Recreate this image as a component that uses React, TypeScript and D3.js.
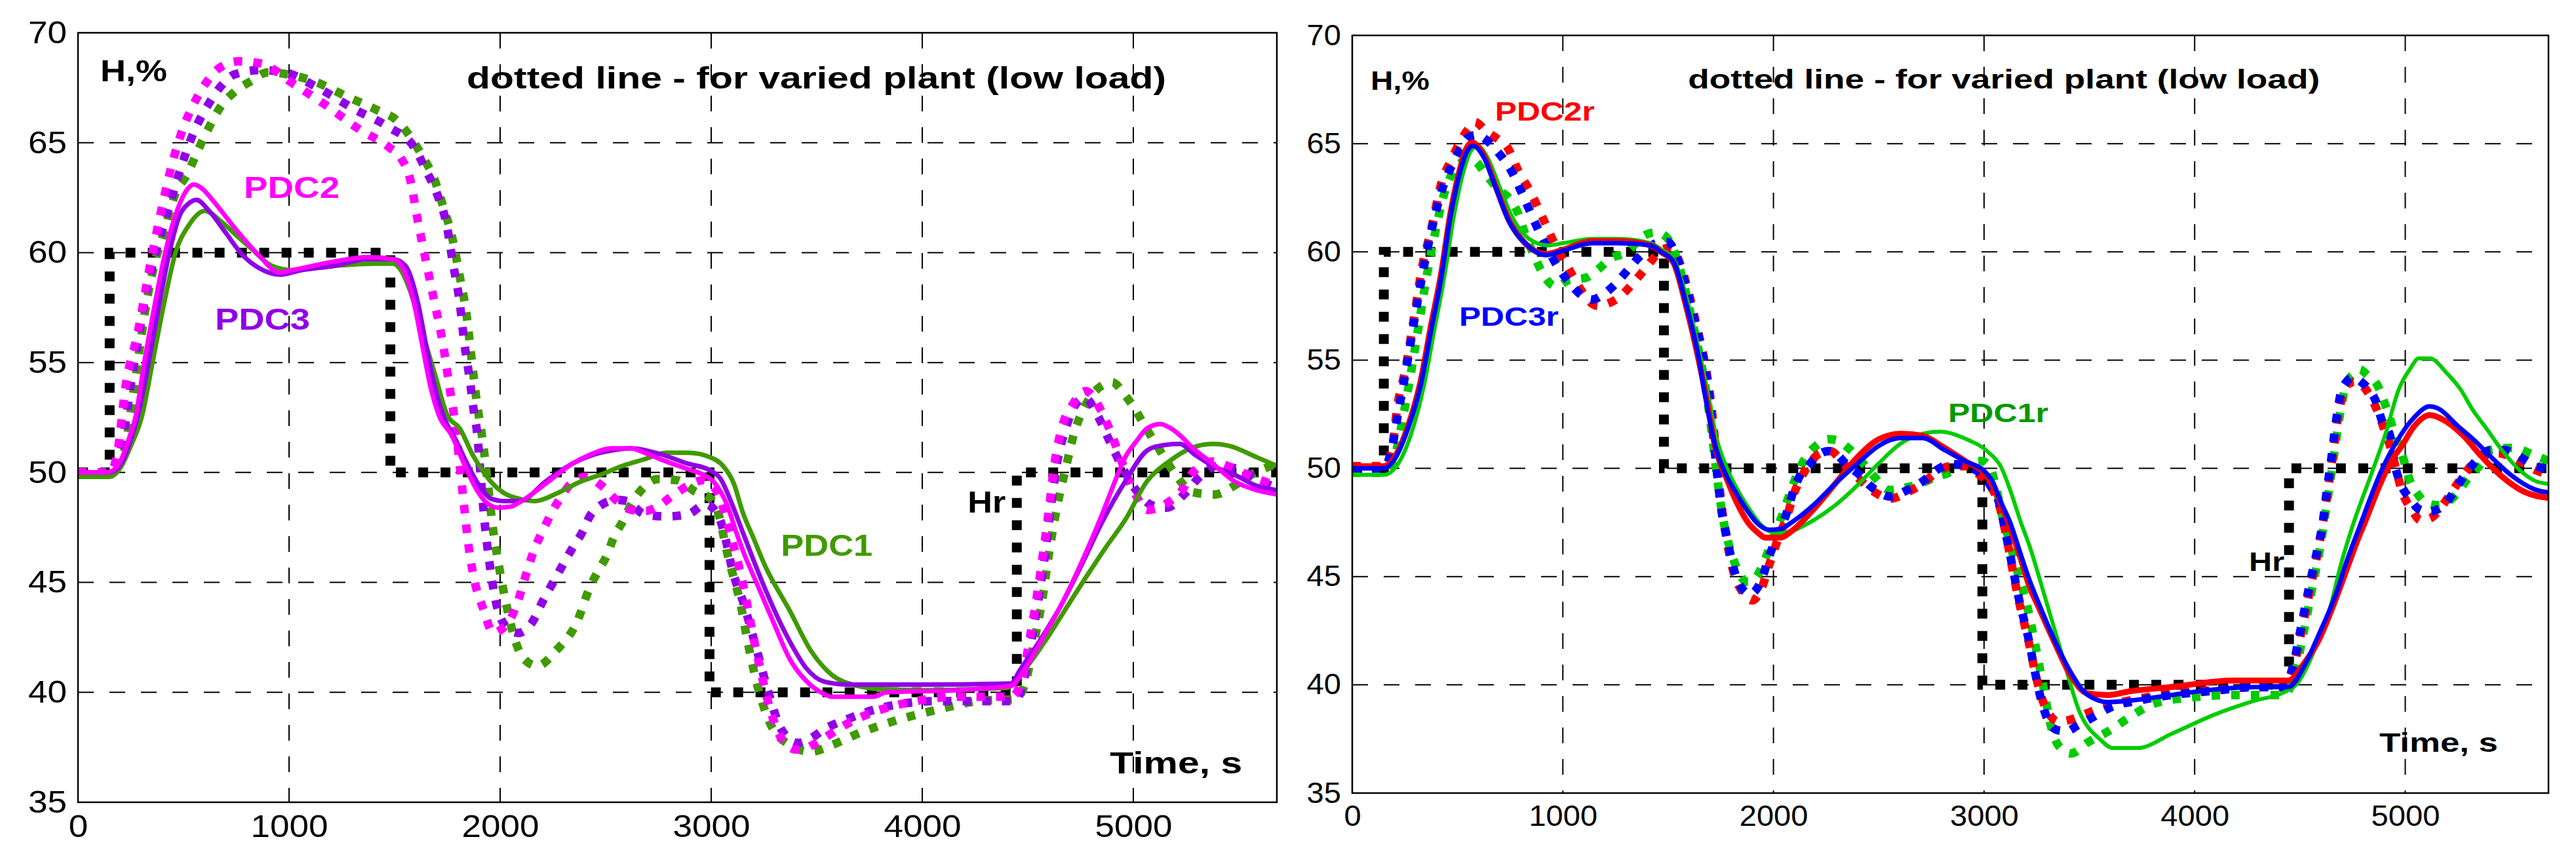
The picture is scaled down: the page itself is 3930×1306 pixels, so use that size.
import * as d3 from "d3";
import { useEffect, useRef } from "react";

type Pt = [number, number];

const xTicks = [0, 1000, 2000, 3000, 4000, 5000];
const yTicks = [35, 40, 45, 50, 55, 60, 65, 70];
const tMax = 5680;

// reference level Hr, given as step changes [time, new level]
const hrSteps: Pt[] = [[0, 50], [150, 60], [1480, 50], [2992, 40], [4448, 50], [5680, 50]];

// ---- left panel: PDC1..PDC3 (solid = nominal plant, dotted = varied plant)
const pdc1: Pt[] = [[0,49.8],[150,49.8],[200,50.2],[250,51.2],[304,52.6],[353,55.0],[410,57.8],[462,60.0],[522,61.2],[601,61.9],[680,61.4],[760,60.7],[819,60.2],[918,59.4],[1017,59.2],[1215,59.4],[1413,59.5],[1493,59.5],[1530,59.2],[1572,58.3],[1631,56.4],[1690,54.5],[1750,52.6],[1809,52.0],[1870,50.8],[1930,49.9],[1959,49.55],[2021,49.05],[2093,48.8],[2166,48.7],[2269,49.05],[2373,49.55],[2476,49.9],[2580,50.3],[2683,50.6],[2787,50.9],[2890,50.9],[2994,50.7],[3056,50.3],[3107,49.5],[3149,48.2],[3201,47.0],[3253,45.8],[3373,43.7],[3472,41.9],[3571,40.8],[3690,40.3],[3800,40.15],[4000,40.1],[4400,40.2],[4482,41.0],[4580,42.3],[4680,43.8],[4780,45.3],[4870,46.6],[4962,47.85],[5065,49.6],[5169,50.5],[5272,51.1],[5376,51.3],[5458,51.2],[5583,50.7],[5680,50.3]];
const pdc1Varied: Pt[] = [[0,50],[150,50],[200,50.4],[230,51.5],[260,53.5],[290,55.5],[324,57.7],[363,59.5],[403,60.8],[462,62.7],[520,63.6],[561,64.5],[621,65.7],[680,66.7],[740,67.3],[819,67.8],[898,68.2],[997,68.1],[1116,67.8],[1274,67.1],[1413,66.5],[1512,66.0],[1572,65.3],[1631,64.4],[1690,63.3],[1730,62.1],[1770,60.8],[1809,58.9],[1839,57.3],[1868,54.9],[1888,53.3],[1918,51.4],[1938,49.8],[1968,47.3],[1997,45.6],[2027,44.1],[2067,42.5],[2106,41.6],[2176,41.2],[2265,41.9],[2364,43.2],[2424,44.75],[2466,45.55],[2507,46.25],[2538,47.05],[2580,47.75],[2621,48.55],[2673,49.25],[2745,49.7],[2838,49.65],[2921,49.15],[3004,48.75],[3045,47.75],[3066,46.75],[3097,45.55],[3135,44.2],[3175,42.2],[3214,40.5],[3274,38.7],[3373,37.6],[3472,37.3],[3571,37.6],[3690,38.1],[3868,38.7],[4066,39.2],[4264,39.6],[4442,39.7],[4490,40.5],[4530,42.3],[4570,44.3],[4600,46.3],[4640,48.5],[4680,50.2],[4720,51.8],[4770,53.0],[4830,53.8],[4900,54.1],[4962,53.5],[5013,52.8],[5055,52.1],[5107,51.3],[5158,50.5],[5200,49.9],[5282,49.1],[5386,49.0],[5479,49.4],[5541,49.8],[5680,50.4]];
const pdc2: Pt[] = [[0,50],[140,50],[200,50.5],[240,51.5],[274,52.6],[314,55.0],[363,57.6],[413,60.0],[462,61.7],[512,62.8],[548,63.1],[590,62.9],[637,62.4],[736,61.2],[855,59.9],[954,59.1],[1013,59.2],[1215,59.6],[1374,59.8],[1493,59.7],[1532,59.4],[1592,57.7],[1631,55.8],[1670,53.9],[1710,52.6],[1770,51.7],[1829,50.4],[1878,49.4],[1928,48.7],[1990,48.4],[2050,48.45],[2093,48.65],[2217,49.5],[2342,50.4],[2424,50.8],[2528,51.1],[2621,51.1],[2683,50.9],[2787,50.5],[2890,50.15],[2973,49.85],[3014,49.55],[3076,48.5],[3118,47.3],[3160,46.2],[3214,45.0],[3294,43.2],[3373,41.5],[3452,40.5],[3520,40.0],[3571,39.8],[3769,39.8],[3830,40.0],[4165,40.1],[4422,40.3],[4482,41.0],[4561,42.3],[4660,44.0],[4759,46.0],[4848,48.0],[4930,50.0],[4962,50.7],[5013,51.4],[5065,52.0],[5127,52.2],[5179,52.0],[5231,51.6],[5272,51.2],[5376,50.4],[5479,49.6],[5583,49.2],[5680,49.0]];
const pdc2Varied: Pt[] = [[0,50],[150,50],[185,50.8],[225,53.9],[284,56.4],[343,59.5],[403,62.3],[442,63.9],[492,65.5],[561,67.0],[620,67.9],[670,68.4],[760,68.7],[868,68.6],[1017,67.7],[1175,66.7],[1334,65.6],[1473,64.8],[1530,64.3],[1572,63.4],[1611,61.4],[1651,59.5],[1690,57.7],[1730,55.8],[1760,53.9],[1790,52.0],[1810,50.2],[1829,48.5],[1850,46.7],[1878,45.1],[1920,43.8],[1968,42.7],[2010,42.9],[2047,43.3],[2086,44.2],[2124,45.4],[2166,46.6],[2205,47.4],[2245,48.2],[2290,48.9],[2331,49.45],[2404,49.8],[2487,49.35],[2549,48.75],[2621,48.3],[2690,48.25],[2735,48.4],[2818,48.95],[2900,49.45],[2960,49.65],[2994,49.5],[3035,49.0],[3087,47.35],[3128,45.85],[3160,44.5],[3200,42.5],[3234,41.0],[3274,39.4],[3333,37.9],[3400,37.4],[3432,37.4],[3480,37.6],[3532,37.9],[3650,38.6],[3769,39.1],[3967,39.6],[4165,39.8],[4422,39.8],[4470,40.5],[4510,42.5],[4545,44.5],[4575,46.5],[4600,48.3],[4625,50.3],[4660,52.0],[4713,53.1],[4775,53.7],[4848,52.8],[4910,51.4],[4941,50.6],[4980,49.6],[5013,48.95],[5065,48.3],[5120,48.4],[5158,48.6],[5231,49.2],[5282,50.0],[5376,50.5],[5469,50.2],[5562,49.8],[5680,49.4]];
const pdc3: Pt[] = [[0,50],[150,50],[210,50.5],[250,51.5],[284,52.6],[334,55.0],[384,57.6],[433,60.0],[482,61.7],[520,62.2],[561,62.4],[621,61.9],[700,60.9],[779,59.9],[858,59.3],[958,59.0],[1057,59.2],[1215,59.4],[1374,59.7],[1493,59.7],[1552,59.4],[1611,57.7],[1651,55.7],[1690,53.9],[1730,52.6],[1789,51.5],[1849,50.3],[1908,49.3],[1959,48.8],[2020,48.7],[2093,48.7],[2217,49.6],[2342,50.4],[2440,50.8],[2528,51.0],[2621,51.1],[2735,50.9],[2890,50.4],[2994,50.1],[3045,49.7],[3097,48.6],[3149,47.3],[3201,46.0],[3260,44.6],[3373,42.3],[3450,41.1],[3532,40.5],[3650,40.35],[4000,40.35],[4420,40.4],[4462,41.0],[4560,42.4],[4660,44.0],[4760,45.9],[4858,47.85],[4962,49.6],[5065,51.0],[5117,51.2],[5220,51.3],[5293,50.8],[5376,50.3],[5479,49.9],[5583,49.4],[5680,49.2]];
const pdc3Varied: Pt[] = [[0,50],[150,50],[190,50.6],[220,52.0],[250,54.0],[284,56.0],[330,58.5],[363,59.8],[423,61.8],[482,63.7],[541,65.3],[621,66.8],[680,67.6],[740,68.1],[858,68.3],[977,68.2],[1136,67.5],[1314,66.5],[1473,65.7],[1592,64.8],[1651,63.7],[1700,62.7],[1750,61.1],[1775,59.6],[1809,57.7],[1829,56.0],[1858,54.1],[1878,52.6],[1890,51.9],[1908,49.8],[1928,47.6],[1948,46.0],[1978,44.2],[2027,43.0],[2086,42.7],[2146,43.1],[2205,44.2],[2248,44.95],[2300,45.85],[2342,46.55],[2393,47.35],[2424,48.0],[2476,48.5],[2550,48.75],[2600,48.7],[2683,48.1],[2787,48.0],[2890,48.1],[2973,48.55],[3035,48.0],[3076,46.65],[3097,45.7],[3155,44.0],[3214,42.0],[3274,39.9],[3333,38.3],[3412,37.7],[3470,37.9],[3532,38.3],[3650,38.8],[3769,39.2],[4066,39.6],[4442,39.6],[4480,40.5],[4520,42.5],[4555,44.5],[4585,46.5],[4610,48.5],[4640,50.5],[4680,52.0],[4720,53.0],[4770,53.4],[4830,52.6],[4889,51.4],[4950,50.2],[5013,49.2],[5090,48.5],[5158,48.4],[5240,49.0],[5314,49.8],[5396,50.3],[5510,50.1],[5604,49.6],[5680,49.3]];

// ---- right panel: robust PDC1r..PDC3r
const pdc1r: Pt[] = [[0,49.7],[150,49.7],[210,50.1],[280,51.6],[340,53.8],[390,56.4],[440,59.0],[480,61.5],[520,63.4],[560,64.6],[595,64.9],[640,64.4],[700,63.0],[760,61.6],[840,60.6],[930,60.3],[1000,60.4],[1139,60.6],[1267,60.6],[1418,60.4],[1470,60.1],[1530,59.6],[1590,57.8],[1650,55.3],[1690,53.4],[1730,51.4],[1780,50.0],[1830,49.0],[1880,48.2],[1940,47.4],[2013,47.0],[2086,47.1],[2190,47.6],[2294,48.3],[2397,49.2],[2501,50.24],[2605,51.15],[2709,51.6],[2791,51.7],[2916,51.35],[3020,50.75],[3082,50.04],[3124,49.0],[3175,47.5],[3214,46.47],[3294,43.9],[3373,41.3],[3453,38.76],[3552,37.47],[3611,37.08],[3730,37.08],[3889,37.73],[4088,38.6],[4286,39.27],[4425,39.66],[4485,40.04],[4584,41.97],[4650,43.8],[4690,45.4],[4752,47.4],[4835,49.63],[4908,51.65],[4970,53.67],[5022,54.58],[5064,55.08],[5116,55.08],[5199,54.38],[5261,53.67],[5323,52.66],[5385,51.85],[5458,50.85],[5541,49.94],[5614,49.43],[5680,49.28]];
const pdc1rVaried: Pt[] = [[0,49.8],[150,49.8],[200,50.5],[240,52.3],[275,54.2],[314,56.5],[354,58.9],[394,60.9],[434,62.6],[473,63.6],[513,64.1],[553,64.3],[583,64.2],[633,63.6],[692,62.9],[752,62.4],[791,61.7],[811,61.1],[870,59.7],[910,58.9],[970,58.4],[1029,58.7],[1109,58.8],[1168,59.2],[1228,59.7],[1307,60.0],[1376,60.7],[1440,60.9],[1490,60.7],[1530,60.0],[1570,58.7],[1610,57.0],[1650,55.2],[1680,53.6],[1705,51.8],[1730,49.8],[1755,48.0],[1780,46.8],[1810,45.8],[1845,45.0],[1880,44.75],[1920,45.0],[1960,45.8],[2000,46.8],[2040,47.8],[2080,48.9],[2120,49.9],[2160,50.6],[2210,51.1],[2260,51.35],[2300,51.3],[2360,50.9],[2420,50.3],[2480,49.6],[2553,49.0],[2620,49.1],[2700,49.3],[2770,49.6],[2833,49.8],[2905,50.2],[2988,50.34],[3030,50.0],[3060,49.0],[3082,48.0],[3124,46.5],[3165,45.0],[3196,44.0],[3240,42.0],[3280,40.0],[3320,38.0],[3353,37.2],[3413,36.83],[3492,37.34],[3591,37.86],[3691,38.5],[3810,39.14],[3969,39.4],[4187,39.53],[4425,39.53],[4475,40.5],[4515,42.3],[4555,44.3],[4595,46.3],[4630,48.5],[4660,50.5],[4690,52.5],[4720,53.9],[4760,54.4],[4783,54.58],[4820,54.3],[4866,53.87],[4910,52.8],[4950,51.6],[4991,50.44],[5022,49.43],[5060,48.8],[5095,48.42],[5157,48.3],[5210,48.5],[5250,48.9],[5302,49.6],[5364,50.24],[5406,50.85],[5510,50.95],[5604,50.64],[5680,50.34]];
const pdc2r: Pt[] = [[0,50.1],[150,50.1],[200,50.5],[263,51.9],[324,54.0],[374,56.6],[424,59.1],[463,61.6],[503,63.5],[543,64.8],[570,65.05],[623,64.5],[682,63.0],[742,61.5],[821,60.4],[921,59.9],[1000,60.1],[1139,60.5],[1267,60.5],[1418,60.3],[1466,60.0],[1525,59.5],[1585,57.5],[1645,55.0],[1684,53.1],[1723,51.0],[1775,49.6],[1827,48.4],[1879,47.5],[1930,47.0],[1961,46.8],[2034,46.8],[2086,47.1],[2190,48.1],[2294,49.3],[2397,50.5],[2501,51.35],[2605,51.6],[2709,51.5],[2812,50.95],[2916,50.3],[2999,49.8],[3051,49.0],[3103,47.8],[3175,45.8],[3217,44.5],[3254,43.7],[3333,42.0],[3413,40.4],[3492,39.6],[3591,39.53],[3691,39.7],[3889,39.9],[4187,40.2],[4445,40.2],[4520,41.0],[4584,41.97],[4683,44.3],[4732,45.6],[4782,46.9],[4804,47.4],[4882,49.3],[4939,50.44],[4981,51.0],[5043,51.95],[5116,52.46],[5178,52.26],[5282,51.45],[5354,50.64],[5458,49.63],[5562,48.93],[5680,48.63]];
const pdc2rVaried: Pt[] = [[0,50.1],[150,50.1],[190,51.0],[215,52.9],[253,54.6],[294,57.0],[334,59.4],[374,61.0],[424,63.2],[473,64.3],[513,65.1],[553,65.7],[583,66.0],[633,65.6],[692,65.2],[732,64.9],[791,63.7],[850,62.7],[910,61.45],[970,60.2],[1029,59.2],[1089,58.2],[1140,57.6],[1168,57.5],[1210,57.6],[1267,57.9],[1346,58.7],[1406,59.4],[1470,60.1],[1515,60.2],[1555,59.5],[1595,58.2],[1635,56.6],[1674,54.9],[1700,53.3],[1720,51.5],[1740,49.5],[1760,47.8],[1780,46.6],[1800,45.6],[1825,44.8],[1860,44.2],[1899,43.9],[1941,44.4],[1982,45.6],[2024,46.8],[2065,47.8],[2096,48.8],[2128,49.5],[2170,50.2],[2221,50.7],[2270,50.8],[2310,50.5],[2345,50.1],[2397,49.6],[2480,48.9],[2553,48.6],[2636,48.9],[2709,49.3],[2771,49.8],[2843,50.1],[2916,50.1],[2978,49.7],[3030,49.2],[3072,48.3],[3103,47.0],[3134,45.4],[3165,43.9],[3214,41.9],[3244,40.5],[3274,39.4],[3313,38.6],[3353,38.3],[3413,38.4],[3492,38.7],[3611,39.1],[3730,39.35],[3889,39.6],[4088,39.75],[4286,39.9],[4425,39.9],[4470,40.8],[4510,42.6],[4550,44.5],[4590,46.4],[4630,48.8],[4655,50.5],[4675,52.0],[4700,53.3],[4730,53.9],[4760,54.0],[4800,53.8],[4835,53.3],[4870,52.6],[4900,51.8],[4935,50.8],[4960,49.8],[4990,48.8],[5030,48.1],[5074,47.6],[5120,47.7],[5170,48.2],[5220,48.9],[5270,49.6],[5320,50.2],[5380,50.6],[5440,50.7],[5510,50.5],[5600,50.0],[5680,49.7]];
const pdc3r: Pt[] = [[0,50.0],[150,50.0],[200,50.4],[263,51.8],[324,53.8],[374,56.35],[424,58.9],[463,61.45],[503,63.35],[543,64.6],[573,64.9],[623,64.4],[682,62.95],[742,61.45],[821,60.4],[921,59.85],[1000,60.05],[1139,60.4],[1267,60.4],[1418,60.3],[1466,60.0],[1525,59.55],[1585,57.6],[1645,55.1],[1671,53.6],[1723,51.05],[1775,49.7],[1827,48.8],[1879,48.0],[1930,47.4],[1982,47.16],[2034,47.2],[2086,47.5],[2190,48.3],[2294,49.3],[2397,50.2],[2501,51.05],[2605,51.4],[2709,51.4],[2812,50.85],[2916,50.3],[2999,49.9],[3040,49.4],[3082,48.4],[3124,47.5],[3175,46.0],[3217,44.8],[3254,43.9],[3333,42.1],[3413,40.56],[3492,39.53],[3591,39.2],[3691,39.27],[3889,39.53],[4088,39.78],[4286,39.9],[4445,39.9],[4524,40.94],[4584,42.2],[4683,44.54],[4711,45.4],[4783,47.3],[4887,49.9],[4960,51.25],[5043,52.36],[5116,52.86],[5157,52.76],[5250,51.95],[5333,51.25],[5406,50.54],[5510,49.63],[5614,49.03],[5680,48.88]];
const pdc3rVaried: Pt[] = [[0,50.0],[150,50.0],[190,51.0],[215,52.4],[253,54.4],[294,56.8],[334,59.0],[374,60.9],[424,62.8],[473,64.0],[513,64.75],[553,65.3],[590,65.4],[633,65.2],[692,64.6],[752,63.8],[811,62.6],[870,61.3],[910,60.5],[970,59.4],[1029,58.6],[1089,58.0],[1140,57.8],[1188,58.0],[1248,58.5],[1307,59.15],[1366,59.8],[1446,60.4],[1500,60.45],[1545,59.65],[1585,58.4],[1625,56.85],[1664,55.2],[1692,53.6],[1712,51.75],[1733,49.7],[1754,48.0],[1775,47.0],[1796,46.0],[1816,45.2],[1847,44.5],[1889,44.2],[1941,44.8],[1982,46.0],[2024,47.0],[2065,48.0],[2096,49.0],[2128,49.7],[2159,50.04],[2211,50.6],[2260,50.8],[2294,50.7],[2345,50.2],[2397,49.8],[2480,49.03],[2553,48.7],[2636,49.0],[2709,49.4],[2771,49.9],[2843,50.2],[2916,50.1],[2978,49.8],[3030,49.2],[3072,48.4],[3103,47.0],[3134,45.5],[3165,44.0],[3214,42.0],[3244,40.5],[3274,39.2],[3313,38.2],[3350,37.9],[3393,37.86],[3440,38.1],[3492,38.37],[3611,39.0],[3730,39.27],[3889,39.53],[4088,39.72],[4286,39.9],[4425,39.9],[4465,40.8],[4504,42.6],[4544,44.54],[4584,46.3],[4607,47.4],[4628,49.0],[4649,50.44],[4669,52.0],[4690,53.3],[4721,54.0],[4752,54.2],[4794,53.97],[4825,53.67],[4866,52.96],[4887,52.26],[4929,51.45],[4949,50.24],[4981,49.23],[5022,48.6],[5064,48.12],[5110,48.0],[5157,48.12],[5209,48.6],[5250,49.23],[5302,49.94],[5354,50.54],[5406,50.85],[5468,50.85],[5541,50.54],[5614,50.14],[5680,49.94]];

const TITLE = "dotted line - for varied plant (low load)";

interface SeriesDef { data: Pt[]; color: string; dotted: boolean; width: number }
interface LabelDef { text: string; t: number; h: number; color: string; len: number }
interface PanelDef {
  left: number; right: number; top: number; bottom: number;
  tickFont: number; digitW: number; labelFont: number; xPad: number;
  series: SeriesDef[]; labels: LabelDef[];
}

const GREEN_L = "#409a00";
const MAGENTA = "#ff00ff";
const PURPLE = "#9100e6";
const RED = "#ff0000";
const BLUE = "#0000ff";
const GREEN_R = "#00cc00";

const panels: PanelDef[] = [
  {
    left: 119, right: 1948, top: 50, bottom: 1224,
    tickFont: 48, digitW: 29.5, labelFont: 46, xPad: 19,
    series: [
      { data: pdc1Varied, color: GREEN_L, dotted: true, width: 13 },
      { data: pdc3Varied, color: PURPLE, dotted: true, width: 13 },
      { data: pdc2Varied, color: MAGENTA, dotted: true, width: 13 },
      { data: pdc1, color: GREEN_L, dotted: false, width: 7 },
      { data: pdc3, color: PURPLE, dotted: false, width: 7 },
      { data: pdc2, color: MAGENTA, dotted: false, width: 7 },
    ],
    labels: [
      { text: "H,%", t: 106, h: 67.79, color: "#000", len: 102 },
      { text: TITLE, t: 1842, h: 67.47, color: "#000", len: 1067 },
      { text: "PDC2", t: 786, h: 62.49, color: MAGENTA, len: 146 },
      { text: "PDC3", t: 649, h: 56.49, color: PURPLE, len: 145 },
      { text: "PDC1", t: 3330, h: 46.21, color: GREEN_L, len: 140 },
      { text: "Hr", t: 4215, h: 48.18, color: "#000", len: 58 },
      { text: "Time, s", t: 4889, h: 36.31, color: "#000", len: 202 },
    ],
  },
  {
    left: 2063, right: 3888, top: 54, bottom: 1210,
    tickFont: 44, digitW: 26.2, labelFont: 41, xPad: 19,
    series: [
      { data: pdc1rVaried, color: GREEN_R, dotted: true, width: 13 },
      { data: pdc2rVaried, color: RED, dotted: true, width: 13 },
      { data: pdc3rVaried, color: BLUE, dotted: true, width: 13 },
      { data: pdc1r, color: GREEN_R, dotted: false, width: 6 },
      { data: pdc2r, color: RED, dotted: false, width: 9 },
      { data: pdc3r, color: BLUE, dotted: false, width: 7 },
    ],
    labels: [
      { text: "H,%", t: 87, h: 67.49, color: "#000", len: 90 },
      { text: TITLE, t: 1594, h: 67.55, color: "#000", len: 964 },
      { text: "PDC2r", t: 678, h: 66.06, color: RED, len: 152 },
      { text: "PDC3r", t: 507, h: 56.59, color: BLUE, len: 152 },
      { text: "PDC1r", t: 2829, h: 52.14, color: "#009a00", len: 153 },
      { text: "Hr", t: 4258, h: 45.25, color: "#000", len: 54 },
      { text: "Time, s", t: 4877, h: 36.91, color: "#000", len: 181 },
    ],
  },
];

const FONT = "'Liberation Sans', Arial, Helvetica, sans-serif";

function drawPanel(
  svg: d3.Selection<SVGSVGElement, unknown, null, undefined>,
  p: PanelDef,
  idx: number,
) {
  const x = d3.scaleLinear().domain([0, tMax]).range([p.left, p.right]);
  const y = d3.scaleLinear().domain([35, 70]).range([p.bottom, p.top]);
  const g = svg.append("g");

  // dashed grid
  g.append("g")
    .selectAll("line")
    .data(yTicks.slice(1, -1))
    .join("line")
    .attr("x1", p.left)
    .attr("x2", p.right)
    .attr("y1", (d) => y(d))
    .attr("y2", (d) => y(d))
    .attr("stroke", "#000")
    .attr("stroke-width", 2)
    .attr("stroke-dasharray", "24 24");
  g.append("g")
    .selectAll("line")
    .data(xTicks.slice(1))
    .join("line")
    .attr("x1", (d) => x(d))
    .attr("x2", (d) => x(d))
    .attr("y1", p.top)
    .attr("y2", p.bottom)
    .attr("stroke", "#000")
    .attr("stroke-width", 2)
    .attr("stroke-dasharray", "24 24");

  const clipId = `clip-${idx}`;
  svg
    .append("clipPath")
    .attr("id", clipId)
    .append("rect")
    .attr("x", p.left)
    .attr("y", p.top)
    .attr("width", p.right - p.left)
    .attr("height", p.bottom - p.top);

  const plot = g.append("g").attr("clip-path", `url(#${clipId})`);

  // reference Hr
  const step = d3
    .line<Pt>()
    .x((d) => x(d[0]))
    .y((d) => y(d[1]))
    .curve(d3.curveStepAfter);
  plot
    .append("path")
    .attr("d", step(hrSteps))
    .attr("fill", "none")
    .attr("stroke", "#000")
    .attr("stroke-width", 15)
    .attr("stroke-dasharray", "15 19");

  const line = d3
    .line<Pt>()
    .x((d) => x(d[0]))
    .y((d) => y(d[1]))
    .curve(d3.curveMonotoneX);

  p.series.forEach((s) => {
    plot
      .append("path")
      .attr("d", line(s.data))
      .attr("fill", "none")
      .attr("stroke", s.color)
      .attr("stroke-width", s.width)
      .attr("stroke-linejoin", "round")
      .attr("stroke-dasharray", s.dotted ? "13 17" : null);
  });

  // frame
  g.append("rect")
    .attr("x", p.left)
    .attr("y", p.top)
    .attr("width", p.right - p.left)
    .attr("height", p.bottom - p.top)
    .attr("fill", "none")
    .attr("stroke", "#000")
    .attr("stroke-width", 2.5);

  // axes (labels only)
  const yAxis = g
    .append("g")
    .attr("transform", `translate(${p.left},0)`)
    .call(d3.axisLeft(y).tickValues(yTicks).tickSize(0).tickPadding(17).tickFormat(d3.format("d")));
  yAxis.select(".domain").remove();
  const xAxis = g
    .append("g")
    .attr("transform", `translate(0,${p.bottom})`)
    .call(d3.axisBottom(x).tickValues(xTicks).tickSize(0).tickPadding(p.xPad).tickFormat(d3.format("d")));
  xAxis.select(".domain").remove();
  [yAxis, xAxis].forEach((ax) =>
    ax
      .selectAll<SVGTextElement, number>("text")
      .attr("font-family", FONT)
      .attr("font-size", p.tickFont)
      .attr("fill", "#000")
      .attr("textLength", (d) => String(d).length * p.digitW)
      .attr("lengthAdjust", "spacingAndGlyphs"),
  );

  // in-plot annotations
  g.append("g")
    .selectAll("text")
    .data(p.labels)
    .join("text")
    .attr("x", (d) => x(d.t))
    .attr("y", (d) => y(d.h))
    .attr("font-family", FONT)
    .attr("font-weight", "bold")
    .attr("font-size", p.labelFont)
    .attr("fill", (d) => d.color)
    .attr("textLength", (d) => d.len)
    .attr("lengthAdjust", "spacingAndGlyphs")
    .text((d) => d.text);
}

export default function App() {
  const svgRef = useRef<SVGSVGElement | null>(null);

  useEffect(() => {
    if (!svgRef.current) return;
    const svg = select(svgRef.current);
    svg.selectAll("*").remove();
    svg.append("rect").attr("width", 3930).attr("height", 1306).attr("fill", "#fff");
    panels.forEach((p, i) => drawPanel(svg, p, i));
  }, []);

  return (
    <svg
      ref={svgRef}
      width={3930}
      height={1306}
      style={{ position: "absolute", left: 0, top: 0, display: "block" }}
      role="img"
      aria-label="Controlled variable H for PDC controllers"
    />
  );
}

const select = d3.select;
